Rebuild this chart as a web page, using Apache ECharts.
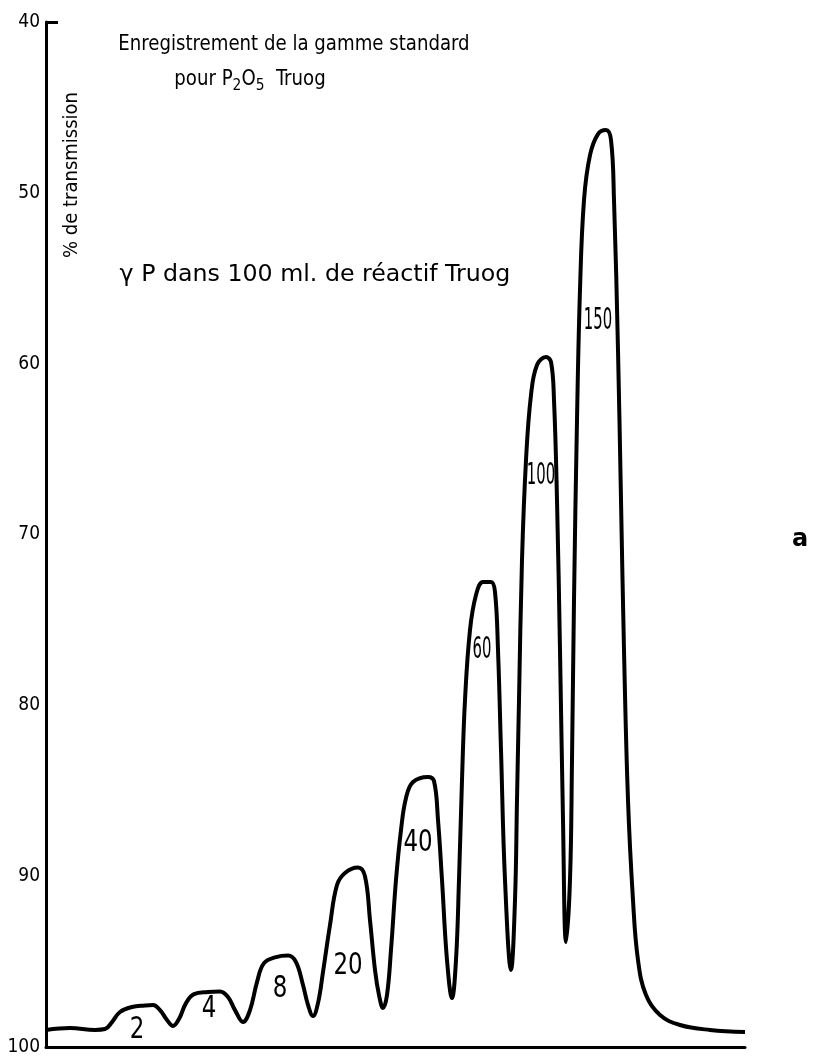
<!DOCTYPE html>
<html><head><meta charset="utf-8">
<script src="https://cdn.jsdelivr.net/npm/echarts@6/dist/echarts.min.js"></script>
<style>html,body{margin:0;padding:0;background:#fff}#c{width:817px;height:1059px}</style>
</head><body><div id="c"></div>
<script>
// recorder position (arbitrary units along chart paper)
const chartX = [0,24,49,59,66,74,86,99,107,114,121,127,133,140,148,162,174,182,189,197,204,211,218,230,242,250,257,262,267,272,277,284,291,299,312,319,324,329,333,337,341,345,350,355,360,367,382,388,392,396,401,406,410,413,416,419,424,430,437,445,449,452,455,459,465,469,471,473,476,480,485,491,500,505,508,511,514,517,520,524,526,528,531,534,538,544,552,560,565,568,572,575,578,582,587,592,600,614,634,664,699];
// % de transmission
const transmission = [99.00,98.89,99.00,98.95,98.54,97.95,97.66,97.57,97.54,97.84,98.42,98.77,98.36,97.43,96.90,96.78,96.75,97.07,97.84,98.54,97.84,96.20,95.09,94.74,94.65,95.03,96.37,97.54,98.19,97.43,95.61,92.86,90.52,89.81,89.49,90.01,92.58,95.49,96.96,97.72,96.96,94.32,90.22,87.30,85.42,84.49,84.19,84.43,86.71,90.22,94.91,97.13,94.91,90.22,84.37,79.69,75.59,73.54,72.78,72.78,73.37,76.76,82.62,90.22,95.49,91.40,85.54,79.69,71.49,65.64,61.83,60.08,59.61,59.90,62.13,67.98,76.76,86.71,93.85,90.22,83.20,73.83,63.30,55.69,50.42,47.79,46.56,46.32,46.91,50.42,59.20,67.98,76.76,85.54,91.40,94.91,96.96,98.13,98.71,99.00,99.12];
// standards (gamma P in 100 ml) labelled on each peak
const peakLabels = ['2','4','8','20','40','60','100','150'];
const peakLabelX = [91,163,234,302,372,436,495,552];
const peakLabelY = [99.0,97.78,96.61,95.26,88.06,76.76,66.58,57.50];
const yTicks = [40,50,60,70,80,90,100];

const narrow = {'60':0.55,'100':0.55,'150':0.55};
const FONT = '"DejaVu Sans Condensed","Liberation Sans Narrow","DejaVu Sans",sans-serif';
const FONTW = '"DejaVu Sans","Liberation Sans",sans-serif';

const chart = echarts.init(document.getElementById('c'), null, {renderer:'canvas'});
chart.setOption({
  animation:false,
  backgroundColor:'#fff',
  grid:{left:46,right:72,top:22,bottom:12,containLabel:false},
  xAxis:{type:'value',min:0,max:699,position:'bottom',
    axisLine:{onZero:false,lineStyle:{color:'#000',width:3}},
    axisTick:{show:false},axisLabel:{show:false},splitLine:{show:false}},
  yAxis:{type:'value',inverse:true,min:yTicks[0],max:yTicks[yTicks.length-1],interval:10,
    axisLine:{show:true,lineStyle:{color:'#000',width:3}},
    axisTick:{show:false},splitLine:{show:false},
    axisLabel:{color:'#000',fontSize:19,fontFamily:FONT,margin:6,
      formatter:v=>yTicks.indexOf(v)>=0?String(v):''}},
  series:[
    {type:'line',data:chartX.map((x,i)=>[x,transmission[i]]),smooth:0.4,
     showSymbol:false,symbol:'none',lineStyle:{color:'#000',width:4},z:3,
     markLine:{silent:true,symbol:'none',label:{show:false},lineStyle:{color:'#000',width:3,type:'solid'},
       data:[[{coord:[0,40]},{coord:[12,40]}]]}},
    {type:'custom',coordinateSystem:'cartesian2d',z:5,
     data:peakLabels.map((t,i)=>[peakLabelX[i],peakLabelY[i]]),
     renderItem:(params,api)=>{
       const p=api.coord([api.value(0),api.value(1)]);
       const t=peakLabels[params.dataIndex];
       return {type:'text',x:p[0],y:p[1],scaleX:narrow[t]||0.85,
         style:{text:t,fill:'#000',font:'30px '+FONT,align:'center',verticalAlign:'middle'}};
     }}
  ],
  graphic:[
    {type:'text',x:294,y:45,scaleX:0.96,style:{text:'Enregistrement de la gamme standard',fill:'#000',font:'21px '+FONT,align:'center',verticalAlign:'middle'}},
    {type:'text',x:250,y:80,scaleX:0.96,style:{text:'{n|pour P}{s|2}{n|O}{s|5}{n|  Truog}',fill:'#000',align:'center',verticalAlign:'middle',
      rich:{n:{font:'21px '+FONT,fill:'#000'},s:{font:'16px '+FONT,fill:'#000',padding:[11,0,0,0]}}}},
    {type:'text',x:315,y:275,scaleX:1.03,style:{text:'γ P dans 100 ml. de réactif Truog',fill:'#000',font:'23px '+FONTW,align:'center',verticalAlign:'middle'}},
    {type:'text',x:72,y:175,rotation:Math.PI/2,style:{text:'% de transmission',fill:'#000',font:'20px '+FONT,align:'center',verticalAlign:'middle'}},
    {type:'text',x:800,y:540,style:{text:'a',fill:'#000',font:'bold 24px '+FONTW,align:'center',verticalAlign:'middle'}}
  ]
});
</script></body></html>
